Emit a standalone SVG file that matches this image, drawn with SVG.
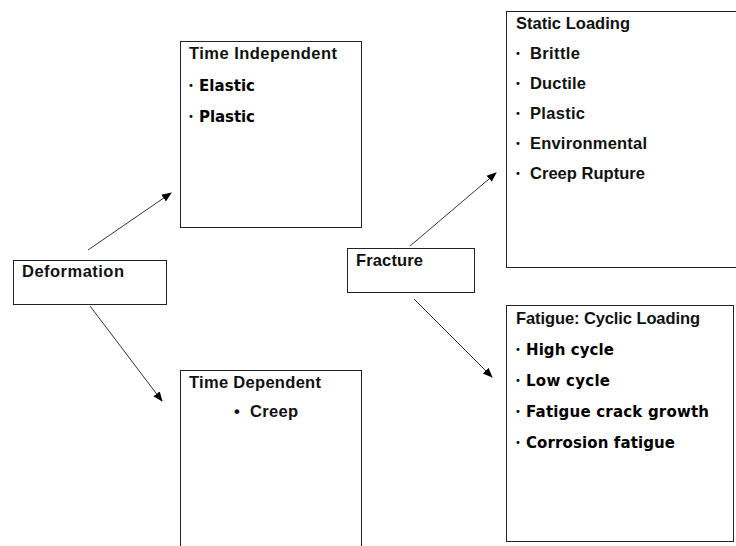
<svg xmlns="http://www.w3.org/2000/svg" width="736" height="546" viewBox="0 0 736 546">
<style>
.box{fill:#fff;stroke:#222;stroke-width:1}
.t{font-family:"Liberation Sans",Arial,sans-serif;font-weight:bold;font-size:16.5px;fill:#111}
.v{font-family:"DejaVu Sans",Verdana,sans-serif;font-weight:bold;font-size:15px;fill:#000}
.b{font-family:"DejaVu Sans",Verdana,sans-serif;font-size:10px;fill:#000}
.c{stroke:#333;stroke-width:1;fill:none;marker-end:url(#ah)}
</style>
<defs>
<marker id="ah" viewBox="0 0 10 10" refX="9" refY="5" markerWidth="10" markerHeight="10" markerUnits="userSpaceOnUse" orient="auto">
<path d="M0,1 L10,5 L0,9 z" fill="#000"/>
</marker>
</defs>
<rect width="736" height="546" fill="#fff"/>
<g id="connectors">
<line class="c" x1="88" y1="250" x2="171" y2="193"/>
<line class="c" x1="90" y1="306" x2="162" y2="401"/>
<line class="c" x1="410" y1="246" x2="496" y2="173"/>
<line class="c" x1="414" y1="299" x2="492" y2="377"/>
</g>
<g id="deformation">
<rect class="box" x="13.5" y="260.5" width="153" height="44"/>
<text class="t" x="22" y="277" textLength="102">Deformation</text>
</g>
<g id="time-independent">
<rect class="box" x="180.5" y="41.5" width="181" height="186"/>
<text class="t" x="189" y="59" textLength="148">Time Independent</text>
<text class="b" x="188" y="89">•</text>
<text class="v" x="199" y="91" textLength="56">Elastic</text>
<text class="b" x="188" y="120">•</text>
<text class="v" x="199" y="122" textLength="56">Plastic</text>
</g>
<g id="time-dependent">
<rect class="box" x="180.5" y="370.5" width="181" height="190"/>
<text class="t" x="189" y="388" textLength="132">Time Dependent</text>
<text class="t" x="234" y="417">•</text>
<text class="t" x="250" y="417" textLength="48">Creep</text>
</g>
<g id="fracture">
<rect class="box" x="347.5" y="248.5" width="127" height="44"/>
<text class="t" x="356" y="266" textLength="67">Fracture</text>
</g>
<g id="static-loading">
<rect class="box" x="506.5" y="11.5" width="240" height="256"/>
<text class="t" x="516" y="29" textLength="114">Static Loading</text>
<text class="b" x="515" y="57">•</text>
<text class="t" x="530" y="59" textLength="50">Brittle</text>
<text class="b" x="515" y="87">•</text>
<text class="t" x="530" y="89" textLength="56">Ductile</text>
<text class="b" x="515" y="117">•</text>
<text class="t" x="530" y="119" textLength="55">Plastic</text>
<text class="b" x="515" y="147">•</text>
<text class="t" x="530" y="149" textLength="117">Environmental</text>
<text class="b" x="515" y="177">•</text>
<text class="t" x="530" y="179" textLength="115">Creep Rupture</text>
</g>
<g id="fatigue">
<rect class="box" x="506.5" y="305.5" width="227" height="236"/>
<text class="t" x="516" y="324" textLength="184">Fatigue: Cyclic Loading</text>
<text class="b" x="515" y="353">•</text>
<text class="v" x="526" y="355" textLength="88">High cycle</text>
<text class="b" x="515" y="384">•</text>
<text class="v" x="526" y="386" textLength="84">Low cycle</text>
<text class="b" x="515" y="415">•</text>
<text class="v" x="526" y="417" textLength="183">Fatigue crack growth</text>
<text class="b" x="515" y="446">•</text>
<text class="v" x="526" y="448" textLength="149">Corrosion fatigue</text>
</g>
</svg>
